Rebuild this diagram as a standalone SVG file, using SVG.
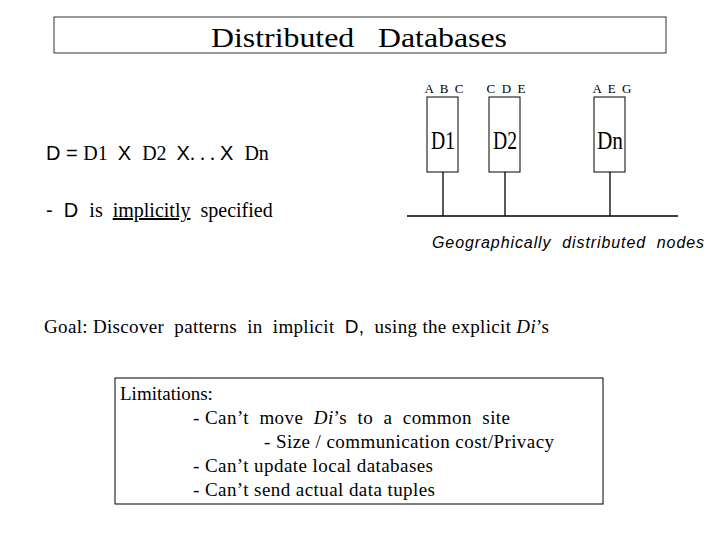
<svg xmlns="http://www.w3.org/2000/svg" width="720" height="540" viewBox="0 0 720 540">
<style>
text{white-space:pre}
.s{font-family:"Liberation Serif",serif;fill:#000}
.a{font-family:"Liberation Sans",sans-serif;fill:#000}
.b{fill:#fff;stroke:#000;stroke-width:1}
.l{stroke:#000;stroke-width:1.3;fill:none}
</style>
<rect width="720" height="540" fill="#fff"/>
<g id="title"><rect x="54" y="17" width="612" height="36" fill="#fff" stroke="#333"/><text class="s" x="211" y="47" font-size="28" textLength="296" lengthAdjust="spacingAndGlyphs">Distributed   Databases</text></g>
<g id="formula">
<text x="46" y="160" font-size="20"><tspan class="a">D = </tspan><tspan class="s">D1  </tspan><tspan class="a">X  </tspan><tspan class="s">D2  </tspan><tspan class="a">X</tspan><tspan class="s">. . . </tspan><tspan class="a">X  </tspan><tspan class="s">Dn</tspan></text>
<text x="46" y="217" font-size="20"><tspan class="a">-  D  </tspan><tspan class="s">is  </tspan><tspan class="s" text-decoration="underline">implicitly</tspan><tspan class="s">  specified</tspan></text>
</g>
<g id="connectors">
<line class="l" x1="407" y1="216" x2="678" y2="216"/>
<line class="l" x1="443" y1="172" x2="443" y2="216"/>
<line class="l" x1="505" y1="172" x2="505" y2="216"/>
<line class="l" x1="610" y1="172" x2="610" y2="216"/>
</g>
<g id="d1"><rect class="b" x="427" y="97" width="31" height="75"/><text class="s" x="431" y="149" font-size="25" textLength="24" lengthAdjust="spacingAndGlyphs">D1</text><text class="s" x="444" y="93" font-size="13" text-anchor="middle">A  B  C</text></g>
<g id="d2"><rect class="b" x="489" y="97" width="31" height="75"/><text class="s" x="493" y="149" font-size="25" textLength="24" lengthAdjust="spacingAndGlyphs">D2</text><text class="s" x="506" y="93" font-size="13" text-anchor="middle">C  D  E</text></g>
<g id="dn"><rect class="b" x="594" y="97" width="31" height="75"/><text class="s" x="597" y="149" font-size="25" textLength="26" lengthAdjust="spacingAndGlyphs">Dn</text><text class="s" x="612" y="93" font-size="13" text-anchor="middle">A  E  G</text></g>
<text class="a" x="432" y="248" font-size="16" font-style="italic" textLength="272">Geographically  distributed  nodes</text>
<text x="44" y="333" font-size="19" textLength="505"><tspan class="s">Goal: Discover  patterns  in  implicit  </tspan><tspan class="a">D,</tspan><tspan class="s">  using the explicit </tspan><tspan class="s" font-style="italic">Di</tspan><tspan class="s">’s</tspan></text>
<g id="limits"><rect x="115" y="378" width="488" height="126" fill="#fff" stroke="#000"/>
<g class="s" font-size="19">
<text x="120" y="400">Limitations:</text>
<text x="193" y="424" textLength="317">- Can’t  move  <tspan font-style="italic">Di</tspan>’s  to  a  common  site</text>
<text x="264" y="448" textLength="290">- Size / communication cost/Privacy</text>
<text x="193" y="472" textLength="240">- Can’t update local databases</text>
<text x="193" y="496" textLength="242">- Can’t send actual data tuples</text>
</g></g>
</svg>
